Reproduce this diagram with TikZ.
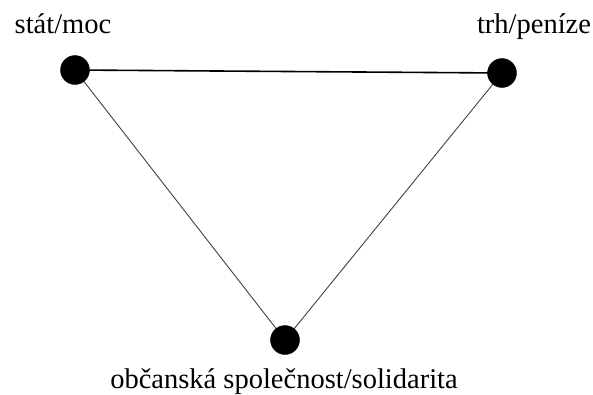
\documentclass[tikz,border=0pt]{standalone}
\usepackage{fontspec}
\setmainfont{Liberation Serif}
\usepackage{tikz}
\usetikzlibrary{positioning}

\begin{document}
\begin{tikzpicture}[x=1pt, y=-1pt]
                    \useasboundingbox (0,0) rectangle (593,394);

                    \coordinate (Stat) at (75, 70);
                    \coordinate (Trh) at (502, 73);
                    \coordinate (Spol) at (285, 340);

                    \draw[line width=1.6pt] (Stat) -- (Trh);
                    \draw[line width=0.9pt, black!75] (Stat) -- (Spol) -- (Trh);

                    \filldraw[black] (Stat) circle (14.5);
                    \filldraw[black] (Trh) circle (14.5);
                    \filldraw[black] (Spol) circle (14.5);

                    \node[anchor=base, inner sep=0pt, font=\fontsize{28.5}{34}\selectfont] (statL) at (63, 33) {stát/moc};
                    \node[anchor=base, inner sep=0pt, font=\fontsize{28.5}{34}\selectfont] (trhL) at (534, 33) {trh/peníze};
                    \node[anchor=base, inner sep=0pt, font=\fontsize{28.5}{34}\selectfont] (spolL) at (284, 388) {občanská společnost/solidarita};
                 \end{tikzpicture}
\end{document}
